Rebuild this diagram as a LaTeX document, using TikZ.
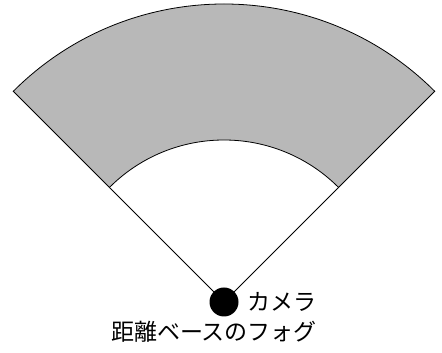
\documentclass[tikz,border=0pt]{standalone}
\usepackage{fontspec}
\newfontfamily\jpfont{Noto Sans CJK JP}
\tikzset{fog/.style={fill=black!28,line width=0.8pt}}
\begin{document}
\begin{tikzpicture}[x=1pt,y=1pt,font=\jpfont\fontsize{23}{26}\selectfont]
\useasboundingbox (0,0) rectangle (442,353);
\coordinate (cam) at (224,51);
\coordinate (inR) at ([shift={(45:162)}]cam);
\coordinate (inL) at ([shift={(135:162)}]cam);
\coordinate (outR) at ([shift={(45:298)}]cam);
\coordinate (outL) at ([shift={(135:298)}]cam);
%\draw[help lines] (0,0) grid[step=50] (442,353);
\draw[fog] (inR) -- (outR) arc[start angle=45,end angle=135,radius=298]
  -- (inL) arc[start angle=135,end angle=45,radius=162] -- cycle;
\draw[line width=0.8pt] (cam) -- (inR);
\draw[line width=0.8pt] (cam) -- (inL);
\fill (cam) circle (14.5);
\node[anchor=west] (camlabel) at (244,51) {カメラ};
\node (foglabel) at (214,21) {距離ベースのフォグ};
\end{tikzpicture}
\end{document}
